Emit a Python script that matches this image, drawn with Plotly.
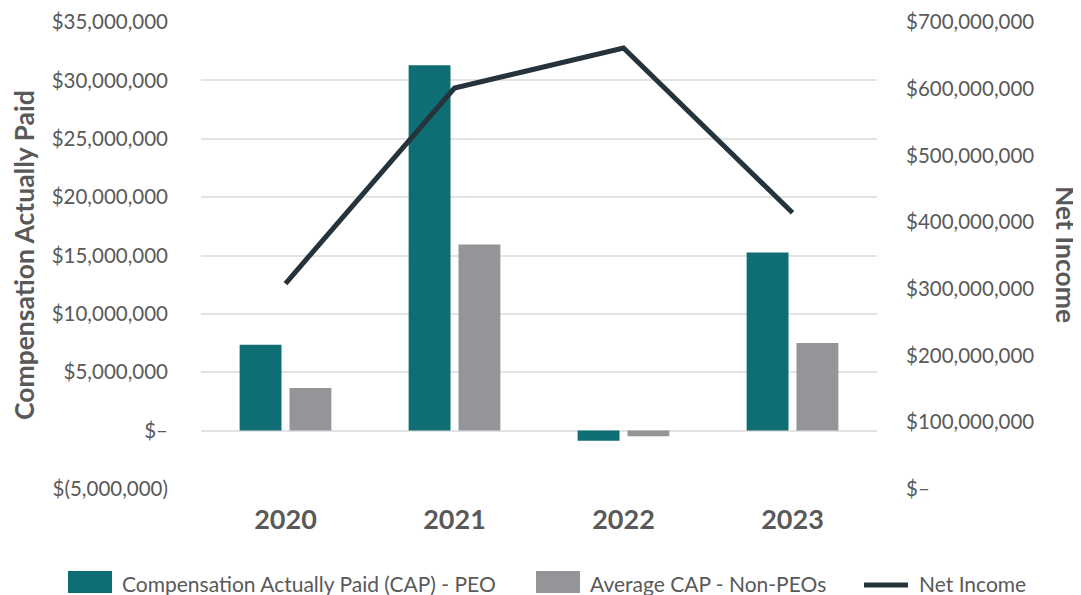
import plotly.graph_objects as go

years = ["2020", "2021", "2022", "2023"]
cap_peo = [7.35e6, 31.3e6, -0.86e6, 15.25e6]
cap_non_peo = [3.65e6, 15.95e6, -0.49e6, 7.5e6]
net_income = [308e6, 601e6, 661e6, 414e6]

left_ticks = [-5e6, 0, 5e6, 10e6, 15e6, 20e6, 25e6, 30e6, 35e6]
left_labels = ["$(5,000,000)", "$\u2013", "$5,000,000", "$10,000,000", "$15,000,000",
               "$20,000,000", "$25,000,000", "$30,000,000", "$35,000,000"]
right_ticks = [0, 100e6, 200e6, 300e6, 400e6, 500e6, 600e6, 700e6]
right_labels = ["$\u2013", "$100,000,000", "$200,000,000", "$300,000,000", "$400,000,000",
                "$500,000,000", "$600,000,000", "$700,000,000"]
series_names = ["Compensation Actually Paid (CAP) - PEO", "Average CAP - Non-PEOs", "Net Income"]

TEAL = "#0e6e74"
GRAY = "#939598"
DARK = "#25333d"
TXT = "#595959"
FONT = "Lato"

OFF = 8  # default page body margin
W, H = 1081 - OFF, 595 - OFF
L, T = 201 - OFF, 22 - OFF
R = W - (877 - OFF)
B = H - (489 - OFF)
PW, PH = W - L - R, H - T - B


def px(x):
    return (x - OFF - L) / PW


def py(y):
    return (H - B - (y - OFF)) / PH


fig = go.Figure()
fig.add_trace(go.Bar(x=years, y=cap_peo, name=series_names[0],
                     marker=dict(color=TEAL, line=dict(width=0)), yaxis="y"))
fig.add_trace(go.Bar(x=years, y=cap_non_peo, name=series_names[1],
                     marker=dict(color=GRAY, line=dict(width=0)), yaxis="y"))
fig.add_trace(go.Scatter(x=years, y=net_income, name=series_names[2], mode="lines",
                         line=dict(color=DARK, width=5), yaxis="y2"))

shapes = [
    dict(type="rect", xref="paper", yref="paper", x0=px(68), x1=px(112), y0=py(593), y1=py(571),
         fillcolor=TEAL, line=dict(width=0)),
    dict(type="rect", xref="paper", yref="paper", x0=px(536), x1=px(580), y0=py(593), y1=py(571),
         fillcolor=GRAY, line=dict(width=0)),
    dict(type="line", xref="paper", yref="paper", x0=px(864), x1=px(908), y0=py(585), y1=py(585),
         line=dict(color=DARK, width=5)),
]

annotations = [
    dict(text="<b>Compensation Actually Paid</b>", x=px(24), xref="paper", y=py(255), yref="paper",
         showarrow=False, textangle=-90, font=dict(family=FONT, size=26.5, color=TXT),
         xanchor="center", yanchor="middle"),
    dict(text="<b>Net Income</b>", x=px(1066), xref="paper", y=py(254), yref="paper",
         showarrow=False, textangle=90, font=dict(family=FONT, size=26.5, color=TXT),
         xanchor="center", yanchor="middle"),
]
for xt, name in zip([120, 588, 917], series_names):
    annotations.append(dict(text=name, x=px(xt), y=py(583), xref="paper", yref="paper",
                            xanchor="left", yanchor="middle", showarrow=False,
                            font=dict(family=FONT, size=21, color=TXT)))

fig.update_layout(
    width=W, height=H,
    margin=dict(l=L, r=R, t=T, b=B, autoexpand=False),
    paper_bgcolor="white", plot_bgcolor="white",
    font=dict(family=FONT, color=TXT, size=20),
    barmode="group", bargap=0.41, bargroupgap=0.16,
    showlegend=False,
    xaxis=dict(tickfont=dict(family=FONT, size=27, color=TXT, weight="bold"),
               showgrid=False, showline=False, ticks="", ticklabelstandoff=12),
    yaxis=dict(range=[-5e6, 35e6], tickvals=left_ticks, ticktext=left_labels,
               showgrid=True, gridcolor="#e3e3e3", gridwidth=2, zeroline=False,
               showline=False, ticks="", ticklabelstandoff=32,
               tickfont=dict(family=FONT, size=20.5, color=TXT)),
    yaxis2=dict(range=[0, 700e6], tickvals=right_ticks, ticktext=right_labels,
                overlaying="y", side="right", showgrid=False, zeroline=False,
                showline=False, ticks="", ticklabelstandoff=28,
                tickfont=dict(family=FONT, size=20.5, color=TXT)),
    shapes=shapes,
    annotations=annotations,
)

fig.write_html("out.html")
